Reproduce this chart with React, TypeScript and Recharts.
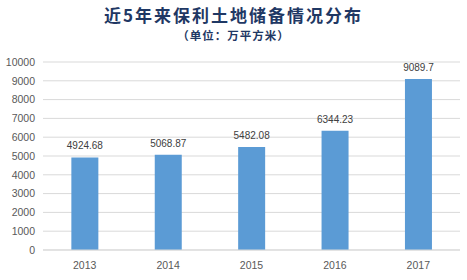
import { BarChart, Bar, XAxis, YAxis, CartesianGrid, LabelList } from "recharts";

// 近5年来保利土地储备（万平方米）
const years = ["2013", "2014", "2015", "2016", "2017"];
const landReserve = [4924.68, 5068.87, 5482.08, 6344.23, 9089.7];
const yTicks = [0, 1000, 2000, 3000, 4000, 5000, 6000, 7000, 8000, 9000, 10000];

const data = years.map((year, i) => ({ year, value: landReserve[i] }));

const tickStyle = { fontFamily: "'Liberation Sans', Arial, sans-serif", fontSize: 10.5, fill: "#595959" };

export default function App() {
  return (
    <div style={{ position: "fixed", left: 0, top: 0, width: 467, height: 280, background: "#fff" }}>
      <div
        style={{
          position: "absolute",
          top: 4,
          width: 467,
          textAlign: "center",
          fontFamily: "'Noto Sans CJK SC', sans-serif",
          fontWeight: 700,
          fontSize: 17,
          letterSpacing: 2,
          color: "#1F3864",
          lineHeight: "22px",
        }}
      >
        近5年来保利土地储备情况分布
      </div>
      <div
        style={{
          position: "absolute",
          top: 27,
          width: 467,
          textAlign: "center",
          fontFamily: "'Noto Sans CJK SC', sans-serif",
          fontWeight: 700,
          fontSize: 11.5,
          letterSpacing: 1,
          color: "#1F3864",
          lineHeight: "16px",
        }}
      >
        （单位：万平方米）
      </div>
      <BarChart
        width={467}
        height={280}
        data={data}
        margin={{ top: 62, right: 7, left: 0, bottom: 0 }}
        barCategoryGap="34%"
      >
        <CartesianGrid vertical={false} stroke="#D9D9D9" />
        <XAxis
          dataKey="year"
          axisLine={{ stroke: "#D9D9D9" }}
          tickLine={false}
          tick={tickStyle}
          height={30}
          tickMargin={6}
        />
        <YAxis
          domain={[0, 10000]}
          ticks={yTicks}
          interval={0}
          axisLine={false}
          tickLine={false}
          tick={tickStyle}
          width={43}
        />
        <Bar dataKey="value" fill="#5B9BD5" isAnimationActive={false}>
          <LabelList
            dataKey="value"
            position="top"
            offset={8}
            style={{ fontFamily: "'Liberation Sans', Arial, sans-serif", fontSize: 10, fill: "#404040" }}
          />
        </Bar>
      </BarChart>
    </div>
  );
}
